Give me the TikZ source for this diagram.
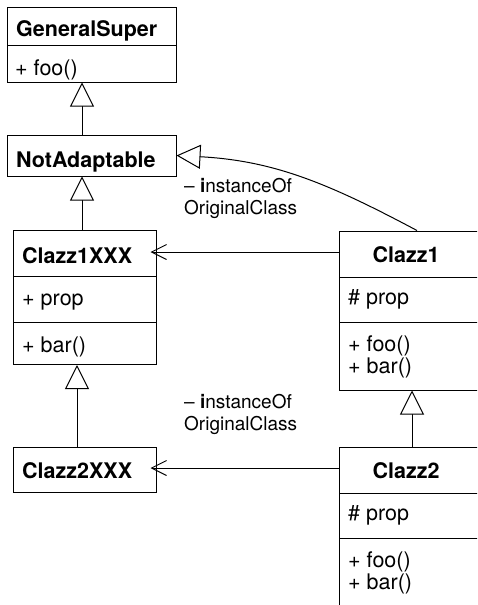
\documentclass[tikz,border=0pt]{standalone}
\usepackage{fontspec}
\setmainfont{TeX Gyre Heros}
\usetikzlibrary{arrows.meta}

\tikzset{
  classbox/.style={draw=black, line width=1pt, inner sep=0pt, fill=white},
  divider/.style={draw=black, line width=1pt},
  member/.style={anchor=base west, inner sep=0pt, font=\fontsize{21.5}{25}\selectfont},
  cname/.style={anchor=base west, inner sep=0pt, font=\fontsize{21.5}{25}\selectfont\bfseries},
  cnamec/.style={anchor=base, inner sep=0pt, font=\fontsize{21.5}{25}\selectfont\bfseries},
  rolelabel/.style={anchor=base west, inner sep=0pt, align=left,
    font=\fontsize{19}{22}\selectfont},
  extends/.style={draw=black, line width=1pt,
    -{Triangle[open, length=24pt, width=24pt, fill=white, line width=1pt]}},
  assoc/.style={draw=black, line width=1pt,
    -{Straight Barb[length=15pt, width=15pt, line width=1pt]}},
}

\begin{document}
\begin{tikzpicture}[x=1pt, y=-1pt]
\useasboundingbox (0,0) rectangle (477,605);
\clip (0,0) rectangle (477,605);

% GeneralSuper
\node[classbox, minimum width=169pt, minimum height=75pt] (gs) at (91.5,44.5) {};
\draw[divider] (7,45) -- (176,45);
\node[cname] (gsname) at (16,36) {GeneralSuper};
\node[member] (gsfoo) at (15,75) {+ foo()};

% NotAdaptable
\node[classbox, minimum width=169pt, minimum height=41pt] (na) at (91.5,155.5) {};
\node[cname] (naname) at (16,167) {NotAdaptable};

% Clazz1XXX
\node[classbox, minimum width=143pt, minimum height=134pt] (cx1) at (84.5,297.5) {};
\draw[divider] (13,276) -- (156,276);
\draw[divider] (13,322) -- (156,322);
\node[cname] (cx1name) at (22,263) {Clazz1XXX};
\node[member] (cx1prop) at (22,305) {+ prop};
\node[member] (cx1bar) at (22,352) {+ bar()};

% Clazz2XXX
\node[classbox, minimum width=143pt, minimum height=45pt] (cx2) at (84.5,469.5) {};
\node[cname] (cx2name) at (22,478) {Clazz2XXX};

% Clazz1
\node[classbox, minimum width=140pt, minimum height=159pt] (c1) at (409,310.5) {};
\draw[divider] (339,277) -- (479,277);
\draw[divider] (339,322) -- (479,322);
\node[cnamec] (c1name) at (406,262) {Clazz1};
\node[member] (c1prop) at (348,304) {\# prop};
\node[member] (c1foo) at (348,351) {+ foo()};
\node[member] (c1bar) at (348,373) {+ bar()};

% Clazz2
\node[classbox, minimum width=140pt, minimum height=173pt] (c2) at (409,533.5) {};
\draw[divider] (339,493) -- (479,493);
\draw[divider] (339,538) -- (479,538);
\node[cnamec] (c2name) at (406,478) {Clazz2};
\node[member] (c2prop) at (348,520) {\# prop};
\node[member] (c2foo) at (348,567) {+ foo()};
\node[member] (c2bar) at (348,589) {+ bar()};

% generalisations
\draw[extends] (na.north -| 82,0) -- (gs.south -| 82,0);
\draw[extends] (cx1.north -| 82,0) -- (na.south -| 82,0);
\draw[extends] (cx2.north -| 77,0) -- (cx1.south -| 77,0);
\draw[extends] (c2.north -| 412,0) -- (c1.south -| 412,0);
\draw[extends] ([xshift=8pt]c1.north) to[out=152, in=-3] (na.east);

% associations with role labels
\draw[assoc] (c1.west |- 0,252) -- ([xshift=-6pt]cx1.east |- 0,252);
\node[rolelabel] (r1) at (184,214) {– \textbf{i}nstanceOf\\OriginalClass};
\draw[assoc] (c2.west |- 0,468) -- ([xshift=-6pt]cx2.east |- 0,468);
\node[rolelabel] (r2) at (184,430) {– \textbf{i}nstanceOf\\OriginalClass};
\end{tikzpicture}
\end{document}
